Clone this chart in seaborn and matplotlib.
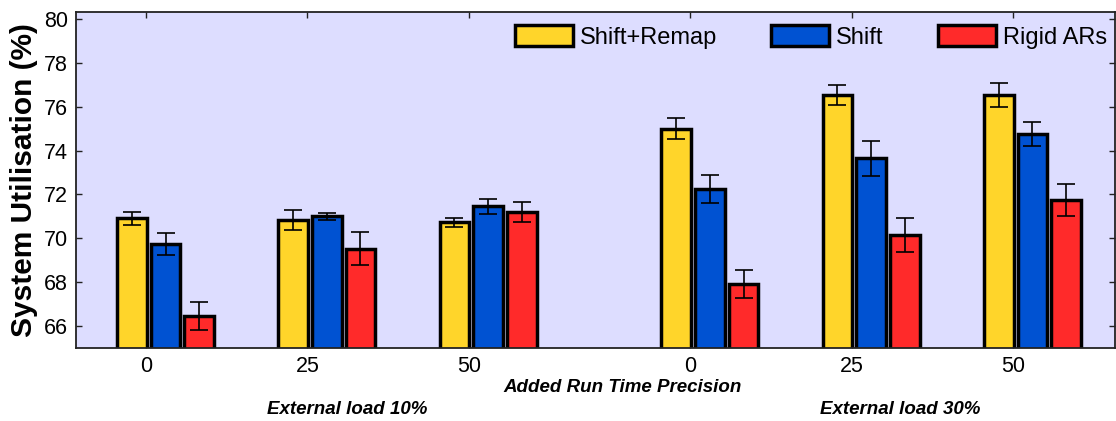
import numpy as np
import pandas as pd
import matplotlib
matplotlib.use("Agg")
import matplotlib.pyplot as plt
from matplotlib import font_manager
import seaborn as sns

# Group labels (added run time precision) and load scenarios
precision_labels = ["0", "25", "50", "0", "25", "50"]
load_labels = ["External load 10%", "External load 30%"]
methods = ["Shift+Remap", "Shift", "Rigid ARs"]

# Mean system utilisation (%) per group
shift_remap = [70.92, 70.84, 70.72, 75.00, 76.53, 76.53]
shift = [69.75, 71.01, 71.45, 72.24, 73.64, 74.75]
rigid_ars = [66.44, 69.52, 71.20, 67.93, 70.15, 71.76]

# Error bar half-lengths
shift_remap_err = [0.30, 0.47, 0.20, 0.49, 0.45, 0.55]
shift_err = [0.51, 0.16, 0.34, 0.65, 0.78, 0.55]
rigid_ars_err = [0.64, 0.75, 0.45, 0.63, 0.78, 0.73]

# Group centres on a numeric axis (extra space between the two load scenarios)
group_pos = [0.0, 1.0, 2.0, 3.375, 4.375, 5.375]

colors = {"Shift+Remap": "#FFD52A", "Shift": "#0052D2", "Rigid ARs": "#FF2A2A"}

values = {"Shift+Remap": shift_remap, "Shift": shift, "Rigid ARs": rigid_ars}
errors = {"Shift+Remap": shift_remap_err, "Shift": shift_err, "Rigid ARs": rigid_ars_err}

rows = []
for m in methods:
    for p, v, e in zip(group_pos, values[m], errors[m]):
        rows.append({"pos": p, "method": m, "util": v, "err": e})
df = pd.DataFrame(rows)

sns.set_style("ticks")
plt.rcParams["font.family"] = ["Liberation Sans", "DejaVu Sans"]
plt.rcParams["text.color"] = "black"
plt.rcParams["axes.labelcolor"] = "black"

# Condensed face for the legend when available
installed = {f.name for f in font_manager.fontManager.ttflist}
if "Liberation Sans Narrow" in installed:
    legend_font = {"family": "Liberation Sans Narrow", "size": 20}
else:
    legend_font = {"family": "Liberation Sans", "size": 17}

fig = plt.figure(figsize=(11.16, 4.21), dpi=100)
ax = fig.add_axes([76 / 1116, 1 - 348 / 421, (1115 - 76) / 1116, (348 - 12.3) / 421])
ax.set_facecolor("#DDDDFF")

group_width = 0.626
sns.barplot(data=df, x="pos", y="util", hue="method", hue_order=methods,
            palette=colors, native_scale=True, width=group_width, gap=0.12,
            errorbar=None, edgecolor="black", linewidth=2.5, saturation=1,
            ax=ax)

# Error bars at the dodged bar centres
slot = group_width / len(methods)
for i, m in enumerate(methods):
    x = np.array(group_pos) + (i - 1) * slot
    ax.errorbar(x, values[m], yerr=errors[m], fmt="none", ecolor="black",
                elinewidth=1.2, capsize=6.5, capthick=1.2, zorder=5)

ax.set_xlim(-0.555, 5.887)
ax.set_ylim(65, 80.3)
ax.set_xticks(np.array(group_pos) - 0.12)
ax.set_xticklabels(precision_labels)
ax.set_yticks(np.arange(66, 81, 2))
ax.tick_params(axis="both", direction="in", top=True, right=True, length=4.5,
               width=1, labelsize=15.5, colors="#222222", labelcolor="black")
ax.tick_params(axis="x", pad=6)
ax.tick_params(axis="y", pad=6)
for s in ax.spines.values():
    s.set_color("#222222")
    s.set_linewidth(1.3)

ax.set_xlabel("")
ax.set_ylabel("System Utilisation (%)", fontsize=21.5, fontweight="bold",
              labelpad=4, color="black")

handles, labels = ax.get_legend_handles_labels()
fs = legend_font["size"]
px = fs * 100 / 72
leg = ax.legend(handles, labels, ncol=3, loc="center right",
                bbox_to_anchor=(0.9923, (348 - 37) / 335.7), frameon=False,
                prop=legend_font, handlelength=58 / px, handleheight=22 / px,
                handletextpad=7 / px, columnspacing=54 / px, borderpad=0,
                borderaxespad=0, labelcolor="black")
for h in leg.legend_handles:
    h.set_edgecolor("black")
    h.set_linewidth(2.5)

fig.text(623 / 1116, 1 - 387 / 421, "Added Run Time Precision", ha="center",
         va="center", fontsize=13.5, fontweight="bold", style="italic",
         color="black")
fig.text(347 / 1116, 1 - 409 / 421, load_labels[0], ha="center", va="center",
         fontsize=13.5, fontweight="bold", style="italic", color="black")
fig.text(900 / 1116, 1 - 409 / 421, load_labels[1], ha="center", va="center",
         fontsize=13.5, fontweight="bold", style="italic", color="black")

fig.savefig("out.png", dpi=100)
